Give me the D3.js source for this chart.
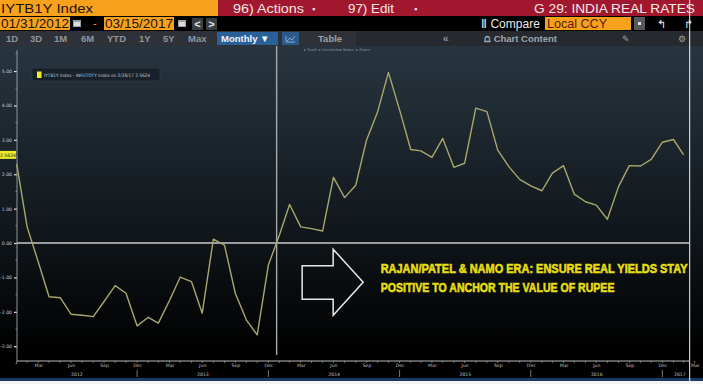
<!DOCTYPE html>
<html>
<head>
<meta charset="utf-8">
<script src="https://cdn.jsdelivr.net/npm/d3@7"></script>
<style>
  body { margin: 0; background: #000; }
  svg { display: block; }
  text { font-family: "Liberation Sans", Arial, sans-serif; }
  .tiny text, text.tiny { font-family: "DejaVu Sans", sans-serif; }
</style>
</head>
<body>
<div id="chart"></div>
<script>
/* Monthly points, IYTB1Y Index minus INFUTOTY Index (month end) */
var months = [
  "2012-01","2012-02","2012-03","2012-04","2012-05","2012-06","2012-07","2012-08","2012-09","2012-10","2012-11","2012-12",
  "2013-01","2013-02","2013-03","2013-04","2013-05","2013-06","2013-07","2013-08","2013-09","2013-10","2013-11","2013-12",
  "2014-01","2014-02","2014-03","2014-04","2014-05","2014-06","2014-07","2014-08","2014-09","2014-10","2014-11","2014-12",
  "2015-01","2015-02","2015-03","2015-04","2015-05","2015-06","2015-07","2015-08","2015-09","2015-10","2015-11","2015-12",
  "2016-01","2016-02","2016-03","2016-04","2016-05","2016-06","2016-07","2016-08","2016-09","2016-10","2016-11","2016-12",
  "2017-01","2017-02"];

var realRate = [
  2.30, 0.47, -0.55, -1.56, -1.59, -2.07, -2.10, -2.14, -1.70, -1.24, -1.46, -2.41,
  -2.16, -2.33, -1.67, -0.99, -1.12, -2.04, 0.11, -0.06, -1.46, -2.24, -2.67, -0.64,
  0.24, 1.12, 0.47, 0.42, 0.35, 1.91, 1.32, 1.68, 2.99, 3.82, 4.96, 3.87,
  2.72, 2.68, 2.49, 3.04, 2.20, 2.32, 3.92, 3.82, 2.70, 2.22, 1.85, 1.66,
  1.52, 2.03, 2.25, 1.42, 1.20, 1.10, 0.69, 1.64, 2.25, 2.24, 2.43, 2.93,
  3.01, 2.5624];

var yTicks = [-3, -2, -1, 0, 1, 2, 3, 4, 5];
var yTickLabels = ["-3.00", "-2.00", "-1.00", "0.00", "1.00", "2.00", "3.00", "4.00", "5.00"];
var yMinorTicks = [-3.5, -2.5, -1.5, -0.5, 0.5, 1.5, 2.5, 3.5, 4.5, 5.5];

var xTickMonths = ["2012-03","2012-06","2012-09","2012-12","2013-03","2013-06","2013-09","2013-12",
  "2014-03","2014-06","2014-09","2014-12","2015-03","2015-06","2015-09","2015-12",
  "2016-03","2016-06","2016-09","2016-12","2017-03"];
var xTickLabels = ["Mar","Jun","Sep","Dec","Mar","Jun","Sep","Dec","Mar","Jun","Sep","Dec",
  "Mar","Jun","Sep","Dec","Mar","Jun","Sep","Dec","Mar"];
var years = ["2012", "2013", "2014", "2015", "2016", "2017"];

var legendText = "IYTB1Y Index - INFUTOTY Index on 2/28/17 2.5624";
var lastValueLabel = "2.5624";
var noteLines = ["RAJAN/PATEL & NAMO ERA: ENSURE REAL YIELDS STAY",
                 "POSITIVE TO ANCHOR THE VALUE OF RUPEE"];

/* Set the dimensions of the window */
var width = 703, height = 384,
    plotTop = 46, plotBottom = 361, plotLeft = 17, plotRight = 689;

var svg = d3.select("#chart").append("svg")
    .attr("width", width).attr("height", height);

var parseMonth = d3.timeParse("%Y-%m");
function monthEnd(s) {
  return d3.timeDay.offset(d3.timeMonth.offset(parseMonth(s), 1), -1);
}
var startDate = monthEnd("2012-01"),
    endDate = new Date(2017, 2, 15);

var x = d3.scaleTime()
    .domain([startDate, endDate])
    .range([16.7, plotRight]);

var y = d3.scaleLinear()
    .domain([-3.43, 5.67])
    .range([plotBottom, 48]);

var series = months.map(function(m, i) { return {date: monthEnd(m), value: realRate[i]}; });

/* Plot background */
var defs = svg.append("defs");
var grad = defs.append("linearGradient")
    .attr("id", "bg").attr("x1", 0).attr("x2", 0).attr("y1", 0).attr("y2", 1);
grad.append("stop").attr("offset", "0%").attr("stop-color", "#28353f");
grad.append("stop").attr("offset", "55%").attr("stop-color", "#11171c");
grad.append("stop").attr("offset", "92%").attr("stop-color", "#000");

svg.append("rect")
    .attr("x", 0).attr("y", plotTop).attr("width", width).attr("height", 378 - plotTop)
    .attr("fill", "url(#bg)");

/* Toolbar strip under the header */
var tools = [["\u25B8 Track", 304], ["\u25B8 Annotate", 319], ["\u25B8 News", 340], ["\u25B8 Zoom", 356]];
svg.append("g").attr("class", "tiny")
  .selectAll("text").data(tools).enter().append("text")
    .attr("x", function(d) { return d[1]; })
    .attr("y", 51)
    .attr("font-size", 3.8)
    .attr("fill", "#8a949c")
    .text(function(d) { return d[0]; });

/* Legend */
var lg = svg.append("g");
lg.append("rect")
    .attr("x", 32).attr("y", 68).attr("width", 128).attr("height", 13)
    .attr("fill", "#182129").attr("stroke", "#2f3b45").attr("stroke-width", 0.8);
lg.append("rect")
    .attr("x", 37).attr("y", 71.5).attr("width", 4.5).attr("height", 6.5)
    .attr("fill", "#f4ec1c");
lg.append("text")
    .attr("class", "tiny")
    .attr("x", 44).attr("y", 76.8)
    .attr("font-size", 4.6)
    .attr("fill", "#c4c8cc")
    .attr("textLength", 106)
    .attr("lengthAdjust", "spacingAndGlyphs")
    .text(legendText);

/* Y axis */
var yAxis = svg.append("g")
    .attr("class", "tiny")
    .attr("transform", "translate(" + plotLeft + ",0)")
    .call(d3.axisLeft(y)
      .tickValues(yTicks)
      .tickSize(3)
      .tickPadding(2)
      .tickFormat(function(d, i) { return yTickLabels[i]; }));
yAxis.select(".domain").remove();
yAxis.selectAll("line").attr("stroke", "#e0e0e0").attr("stroke-width", 1.2);
yAxis.selectAll("text").attr("font-size", 4.6).attr("fill", "#c8c8c8");

svg.append("g").selectAll("line").data(yMinorTicks).enter().append("line")
    .attr("x1", plotLeft - 1.5).attr("x2", plotLeft)
    .attr("y1", function(d) { return y(d); }).attr("y2", function(d) { return y(d); })
    .attr("stroke", "#888");

svg.append("line")
    .attr("x1", plotLeft).attr("x2", plotLeft)
    .attr("y1", 50).attr("y2", plotBottom)
    .attr("stroke", "#8e969c").attr("stroke-width", 1);

/* X axis */
svg.append("line")
    .attr("x1", plotLeft).attr("x2", plotRight)
    .attr("y1", plotBottom).attr("y2", plotBottom)
    .attr("stroke", "#b8b8b8").attr("stroke-width", 1);

svg.append("g").selectAll("line").data(months.concat(["2017-03"])).enter().append("line")
    .attr("x1", function(d) { return x(monthEnd(d)); })
    .attr("x2", function(d) { return x(monthEnd(d)); })
    .attr("y1", plotBottom).attr("y2", plotBottom + 1.8)
    .attr("stroke", "#9a9a9a").attr("stroke-width", 0.8);

var xAxis = svg.append("g")
    .attr("class", "tiny")
    .attr("transform", "translate(0," + plotBottom + ")")
    .call(d3.axisBottom(x)
      .tickValues(xTickMonths.map(monthEnd))
      .tickSize(0)
      .tickPadding(3)
      .tickFormat(function(d, i) { return xTickLabels[i]; }));
xAxis.select(".domain").remove();
xAxis.selectAll("text").attr("font-size", 4.6).attr("fill", "#c0c0c0");

/* Year labels, centred on each year's span */
svg.append("g").attr("class", "tiny")
  .selectAll("text").data(years).enter().append("text")
    .attr("x", function(d) {
      var a = d3.max([new Date(+d, 0, 1), startDate]),
          b = d3.min([new Date(+d, 11, 31), endDate]);
      return (x(a) + x(b)) / 2 + (d === "2017" ? 4 : 0);
    })
    .attr("y", 375.5)
    .attr("text-anchor", "middle")
    .attr("font-size", 4.6)
    .attr("fill", "#c0c0c0")
    .text(function(d) { return d; });

svg.append("g").selectAll("line").data(years.slice(0, -1)).enter().append("line")
    .attr("x1", function(d) { return x(new Date(+d, 11, 31)); })
    .attr("x2", function(d) { return x(new Date(+d, 11, 31)); })
    .attr("y1", 370).attr("y2", 377)
    .attr("stroke", "#9a9a9a").attr("stroke-width", 0.8);

/* Crosshair */
svg.append("line")
    .attr("x1", plotLeft).attr("x2", plotRight)
    .attr("y1", y(0)).attr("y2", y(0))
    .attr("stroke", "#c9cbcc").attr("stroke-width", 1.4);
svg.append("line")
    .attr("x1", x(new Date(2014, 0, 23))).attr("x2", x(new Date(2014, 0, 23)))
    .attr("y1", plotTop).attr("y2", plotBottom - 6)
    .attr("stroke", "#a6a9ab").attr("stroke-width", 1.4);

/* The series */
var line = d3.line()
    .x(function(d) { return x(d.date); })
    .y(function(d) { return y(d.value); });

svg.append("path")
    .datum(series)
    .attr("fill", "none")
    .attr("stroke", "#a9a66e")
    .attr("stroke-width", 1.4)
    .attr("stroke-linejoin", "round")
    .attr("d", line);

/* Last value tag on the axis */
var last = series[series.length - 1];
svg.append("rect")
    .attr("x", 0).attr("y", y(last.value) - 4).attr("width", 16).attr("height", 8)
    .attr("fill", "#eeea2a");
svg.append("text")
    .attr("class", "tiny")
    .attr("x", 8).attr("y", y(last.value) + 1.7)
    .attr("text-anchor", "middle")
    .attr("font-size", 4.6)
    .attr("fill", "#222")
    .text(lastValueLabel);

/* Annotation arrow and note, anchored in data space */
var ax = x(new Date(2014, 3, 4)), ay = y(-1.14);
var arrow = [[0, -16.5], [31, -16.5], [31, -33], [61, 0], [31, 33], [31, 17], [0, 17]];
svg.append("polygon")
    .attr("points", arrow.map(function(p) { return (ax + p[0]) + "," + (ay + p[1]); }).join(" "))
    .attr("fill", "none")
    .attr("stroke", "#e8e8e8")
    .attr("stroke-width", 1.5);

/* squeeze each note line horizontally to the width it has in the picture */
var noteWidths = [307, 234];
svg.append("g").selectAll("text").data(noteLines).enter().append("text")
    .attr("x", 0)
    .attr("y", 0)
    .attr("font-family", "'DejaVu Sans Condensed', 'DejaVu Sans', sans-serif")
    .attr("font-weight", "bold")
    .attr("font-size", 13.5)
    .attr("fill", "#e6de12")
    .attr("stroke", "#e6de12")
    .attr("stroke-width", 0.6)
    .text(function(d) { return d; })
    .attr("transform", function(d, i) {
      var k = noteWidths[i] / this.getComputedTextLength();
      return "translate(" + (ax + 78.5) + "," + (ay - 9 + i * 19) + ") scale(" + k + ",1)";
    });

/* Bottom strip */
svg.append("rect").attr("x", 0).attr("y", 378).attr("width", width).attr("height", 3).attr("fill", "#183a63");
svg.append("rect").attr("x", 0).attr("y", 381).attr("width", width).attr("height", 3).attr("fill", "#f4f4f4");

/* Header, row 1 */
svg.append("rect").attr("x", 0).attr("y", 0).attr("width", 218).attr("height", 16).attr("fill", "#f7a11d");
svg.append("rect").attr("x", 218).attr("y", 0).attr("width", width - 218).attr("height", 16).attr("fill", "#a1182e");
svg.append("text").attr("x", 1).attr("y", 13).attr("font-size", 13).attr("fill", "#1c1408")
    .attr("textLength", 92).attr("lengthAdjust", "spacingAndGlyphs").text("IYTB1Y Index");
svg.append("text").attr("x", 233).attr("y", 13).attr("font-size", 13).attr("fill", "#f2e6e6")
    .attr("textLength", 71).attr("lengthAdjust", "spacingAndGlyphs").text("96) Actions");
svg.append("text").attr("x", 312).attr("y", 12).attr("font-size", 9).attr("fill", "#f2e6e6").text("\u25AA");
svg.append("text").attr("x", 348).attr("y", 13).attr("font-size", 13).attr("fill", "#f2e6e6")
    .attr("textLength", 46).attr("lengthAdjust", "spacingAndGlyphs").text("97) Edit");
svg.append("text").attr("x", 414).attr("y", 12).attr("font-size", 9).attr("fill", "#f2e6e6").text("\u25AA");
svg.append("text").attr("x", 695).attr("y", 13).attr("font-size", 13.5).attr("fill", "#f4eaea")
    .attr("text-anchor", "end").attr("textLength", 161).attr("lengthAdjust", "spacingAndGlyphs")
    .text("G 29: INDIA REAL RATES");

/* Header, row 2 */
svg.append("rect").attr("x", 0).attr("y", 16).attr("width", width).attr("height", 15).attr("fill", "#000");
svg.append("rect").attr("x", 0).attr("y", 17).attr("width", 70).attr("height", 13).attr("fill", "#f7a11d");
svg.append("text").attr("x", 1).attr("y", 28.3).attr("font-size", 12).attr("fill", "#1c1408")
    .attr("textLength", 68).attr("lengthAdjust", "spacingAndGlyphs").text("01/31/2012");
svg.append("rect").attr("x", 104).attr("y", 17).attr("width", 70).attr("height", 13).attr("fill", "#f7a11d");
svg.append("text").attr("x", 105).attr("y", 28.3).attr("font-size", 12).attr("fill", "#1c1408")
    .attr("textLength", 68).attr("lengthAdjust", "spacingAndGlyphs").text("03/15/2017");
[73, 178].forEach(function(cx) {
  svg.append("rect").attr("x", cx).attr("y", 20).attr("width", 8).attr("height", 7).attr("fill", "#9aa0a6");
  svg.append("rect").attr("x", cx + 1).attr("y", 22).attr("width", 6).attr("height", 4).attr("fill", "#d8dde2");
});
svg.append("text").attr("x", 93).attr("y", 27).attr("font-size", 11).attr("fill", "#f7a11d").text("-");
[[192, "<"], [206, ">"]].forEach(function(b) {
  svg.append("rect").attr("x", b[0]).attr("y", 18).attr("width", 11).attr("height", 12).attr("fill", "#3a3d42");
  svg.append("text").attr("x", b[0] + 5.5).attr("y", 28).attr("text-anchor", "middle")
      .attr("font-size", 11).attr("font-weight", "bold").attr("fill", "#e8e8e8").text(b[1]);
});
svg.append("text").attr("x", 481).attr("y", 28.3).attr("font-size", 12).attr("fill", "#e8e8e8")
    .attr("textLength", 59).attr("lengthAdjust", "spacingAndGlyphs").text("\u2161 Compare");
svg.append("rect").attr("x", 545).attr("y", 17).attr("width", 86).attr("height", 13).attr("fill", "#f7a11d");
svg.append("text").attr("x", 547).attr("y", 28.3).attr("font-size", 12).attr("fill", "#5a1a08")
    .attr("textLength", 60).attr("lengthAdjust", "spacingAndGlyphs").text("Local CCY");
svg.append("rect").attr("x", 634).attr("y", 17).attr("width", 11).attr("height", 13).attr("fill", "#55595e");
svg.append("rect").attr("x", 638).attr("y", 22).attr("width", 3).attr("height", 3).attr("fill", "#ddd");
svg.append("text").attr("x", 657).attr("y", 28).attr("font-size", 11).attr("fill", "#eee").text("\u21B0");
svg.append("text").attr("x", 684).attr("y", 28).attr("font-size", 11).attr("fill", "#eee").text("\u21B1");

/* Header, row 3 */
svg.append("rect").attr("x", 0).attr("y", 31).attr("width", width).attr("height", 15).attr("fill", "#2e3238");
svg.append("rect").attr("x", 356).attr("y", 31).attr("width", width - 356).attr("height", 15).attr("fill", "#262a30");
var ranges = [["1D", 6], ["3D", 30], ["1M", 54], ["6M", 81], ["YTD", 107], ["1Y", 139], ["5Y", 163], ["Max", 188]];
svg.append("g").selectAll("text").data(ranges).enter().append("text")
    .attr("x", function(d) { return d[1]; }).attr("y", 42)
    .attr("font-size", 9.5).attr("font-weight", "bold").attr("fill", "#8f959c")
    .text(function(d) { return d[0]; });
svg.append("rect").attr("x", 217).attr("y", 32).attr("width", 61).attr("height", 13).attr("fill", "#2a609a");
svg.append("text").attr("x", 221).attr("y", 42).attr("font-size", 9.5).attr("font-weight", "bold")
    .attr("fill", "#f0f4f8").text("Monthly \u25BC");
svg.append("rect").attr("x", 282).attr("y", 32).attr("width", 17).attr("height", 13).attr("fill", "#2a5a8c");
svg.append("path").attr("d", "M286,36 V42 H295 M287,41 L290,38 L292,40 L295,36")
    .attr("fill", "none").attr("stroke", "#9fc0e0").attr("stroke-width", 0.8);
svg.append("text").attr("x", 318).attr("y", 42).attr("font-size", 9.5).attr("font-weight", "bold")
    .attr("fill", "#9aa0a6").text("Table");
svg.append("text").attr("x", 443).attr("y", 42).attr("font-size", 10).attr("fill", "#b0b4b8").text("\u00AB");
svg.append("text").attr("x", 484).attr("y", 42).attr("font-size", 9.5).attr("font-weight", "bold")
    .attr("fill", "#a0a5aa").text("\u2A4D Chart Content");
svg.append("text").attr("x", 622).attr("y", 42).attr("font-size", 9).attr("fill", "#a0a5aa").text("\u270E");
svg.append("text").attr("x", 678).attr("y", 42).attr("font-size", 9).attr("fill", "#a0a5aa").text("\u2699");

/* Cursor line at the right edge */
svg.append("line")
    .attr("x1", plotRight + 0.7).attr("x2", plotRight + 0.7)
    .attr("y1", 0).attr("y2", height)
    .attr("stroke", "#f4f4f4").attr("stroke-width", 1);
</script>
</body>
</html>
